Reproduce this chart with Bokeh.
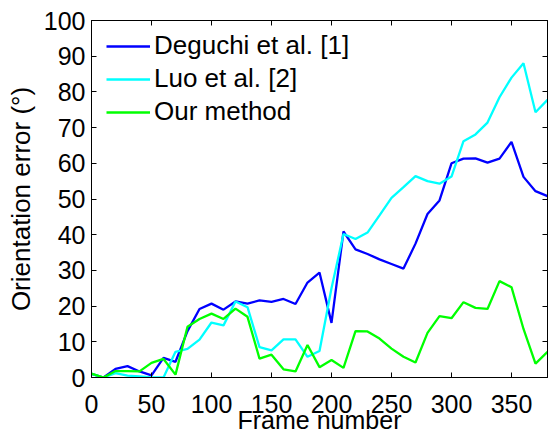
from bokeh.plotting import figure
from bokeh.models import Range1d, LinearAxis, FixedTicker, CustomJSTickFormatter
from bokeh.embed import file_html
from bokeh.resources import INLINE

frames = list(range(0, 390, 10))
deguchi = [1.0, 0, 2.4, 3.2, 1.7, 0.6, 5.5, 4.4, 13.0, 19.2, 20.7, 19.0, 21.3, 20.7, 21.6, 21.2,
           22.0, 20.6, 26.6, 29.4, 15.3, 40.9, 35.9, 34.6, 33.1, 31.8, 30.5, 37.5, 45.8, 49.6,
           60.0, 61.3, 61.4, 60.2, 61.3, 66.0, 56.2, 52.2, 50.8]
luo = [1.0, 0, 1.2, 0.5, 0.3, 0, 0, 7.2, 8.0, 10.6, 15.4, 14.6, 21.3, 19.7, 8.5, 7.6,
       10.7, 10.7, 5.8, 7.4, 25.0, 40.2, 38.8, 40.6, 45.4, 50.3, 53.3, 56.4, 55.0, 54.3,
       56.3, 66.2, 68.1, 71.4, 78.5, 84.0, 88.0, 74.3, 77.8]
ours = [1.1, 0, 1.8, 1.8, 1.7, 4.1, 5.2, 0.8, 14.2, 16.4, 17.9, 16.4, 19.3, 17.0, 5.3, 6.4,
        2.3, 1.7, 9.1, 2.9, 4.9, 2.7, 13.0, 12.9, 10.9, 8.1, 5.8, 4.2, 12.5, 17.2,
        16.6, 21.1, 19.5, 19.2, 27.0, 25.3, 13.6, 3.9, 7.2]
x_ticks = [0, 50, 100, 150, 200, 250, 300, 350]
y_ticks = [0, 10, 20, 30, 40, 50, 60, 70, 80, 90, 100]
x_title = "Frame number"
y_title = "Orientation error (°)"

FONT = "Liberation Sans"
FS = "25px"

p = figure(width=548, height=436, output_backend="svg", toolbar_location=None,
           x_range=Range1d(0, 380), y_range=Range1d(0, 100),
           min_border_left=91, min_border_right=1, min_border_top=20, min_border_bottom=57)
p.grid.visible = False
p.outline_line_color = "black"
p.background_fill_color = "white"
p.border_fill_color = "white"

p.line(frames, deguchi, line_color="#0000ff", line_width=2.3, legend_label="Deguchi et al. [1]")
p.line(frames, luo, line_color="#00ffff", line_width=2.3, legend_label="Luo et al. [2]")
p.line(frames, ours, line_color="#00ff00", line_width=2.3, legend_label="Our method")

def style(ax, ticks, show):
    ax.ticker = FixedTicker(ticks=ticks)
    ax.minor_tick_line_color = None
    ax.major_tick_in = 5
    ax.major_tick_out = 0
    ax.axis_line_color = "black"
    ax.major_tick_line_color = "black"
    if show:
        ax.major_label_text_font = FONT
        ax.major_label_text_font_size = FS
        ax.major_label_text_color = "black"
        ax.axis_label_text_font = FONT
        ax.axis_label_text_font_size = "26px"
        ax.axis_label_text_font_style = "normal"
        ax.axis_label_text_color = "black"
    else:
        ax.formatter = CustomJSTickFormatter(code="return ''")
        ax.major_label_text_font_size = "1px"
        ax.major_label_standoff = 0

style(p.xaxis[0], x_ticks, True)
style(p.yaxis[0], y_ticks, True)
p.xaxis[0].axis_label = x_title
p.yaxis[0].axis_label = y_title
p.xaxis[0].axis_label_text_font_size = "25px"
p.xaxis[0].major_label_standoff = 17
p.xaxis[0].axis_label_standoff = -10
p.yaxis[0].major_label_standoff = 6
p.yaxis[0].axis_label_standoff = 5

top = LinearAxis()
right = LinearAxis()
style(top, x_ticks, False)
style(right, y_ticks, False)
p.add_layout(top, "above")
p.add_layout(right, "right")

lg = p.legend[0]
lg.location = (4, 239)
lg.margin = 0
lg.padding = 11
lg.spacing = 2
lg.border_line_alpha = 0
lg.background_fill_alpha = 0
lg.label_text_font = FONT
lg.label_text_font_size = "26px"
lg.label_text_color = "black"
lg.glyph_width = 44
lg.label_standoff = 4

open("out.html", "w").write(file_html(p, INLINE))
